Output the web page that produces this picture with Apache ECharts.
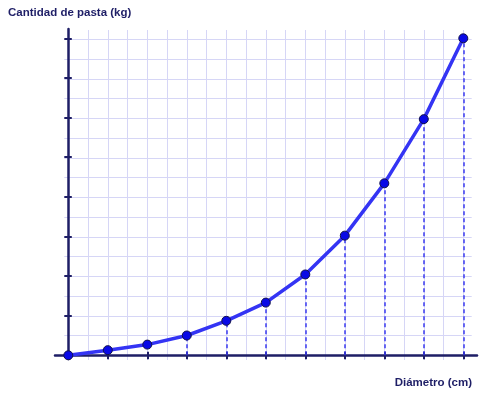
<!DOCTYPE html>
<html>
<head>
<meta charset="utf-8">
<script src="https://cdn.jsdelivr.net/npm/echarts@6/dist/echarts.min.js"></script>
<style>
  html, body { margin: 0; padding: 0; background: #fff; }
  #chart { width: 500px; height: 398px; }
</style>
</head>
<body>
<div id="chart"></div>
<script>
// diámetro (cm) en el eje x, cantidad de pasta (kg) en el eje y
const diametro = [0, 1, 2, 3, 4, 5, 6, 7, 8, 9, 10]
const pasta = [0, 0.13, 0.27, 0.5, 0.87, 1.33, 2.04, 3.02, 4.34, 5.96, 8.0]
const yTitle = 'Cantidad de pasta (kg)'
const xTitle = 'Diámetro (cm)'
const firstDropLine = 3

const navy = '#1e1e66'
const gridColor = '#d6d6f6'
const font = '"Liberation Sans", Arial, sans-serif'

const chart = echarts.init(document.getElementById('chart'), null, { renderer: 'canvas' })

const points = diametro.map((d, i) => [d, pasta[i]])
const dropLines = points.slice(firstDropLine).map(([d, p]) => [{ coord: [d, 0] }, { coord: [d, p] }])

const hidden = { axisLine: { show: false }, axisTick: { show: false }, axisLabel: { show: false }, splitLine: { show: false } }
const tickAxis = (inside, extra) => ({
  type: 'value', min: 0, interval: 1, gridIndex: 2, ...extra,
  axisLine: { show: false }, axisLabel: { show: false }, splitLine: { show: false },
  axisTick: { show: true, inside, length: inside ? 3.5 : 4, lineStyle: { color: navy, width: 2 } },
})
const titleStyle = { fontFamily: font, fontSize: 11.5, fontWeight: 'bold', color: navy }

chart.setOption({
  animation: false,
  backgroundColor: '#fff',
  title: [
    { text: yTitle, left: 8, top: 7, padding: 0, textStyle: titleStyle },
    { text: xTitle, right: 28, top: 377, padding: 0, textStyle: titleStyle },
  ],
  grid: [
    // fondo cuadriculado (cada 0,5)
    { left: 64.3, right: 28.3, top: 30, bottom: 38, outerBoundsMode: 'none' },
    // líneas de los ejes
    { left: 55, right: 23, top: 29, bottom: 39, outerBoundsMode: 'none' },
    // datos y marcas
    { left: 68.3, right: 36.7, top: 38.3, bottom: 42.7, outerBoundsMode: 'none' },
  ],
  xAxis: [
    { type: 'value', gridIndex: 0, min: -0.1, max: 10.21, splitNumber: 20, minInterval: 0.5, maxInterval: 0.5,
      axisLine: { show: false }, axisTick: { show: false }, axisLabel: { show: false },
      splitLine: { show: true, showMinLine: false, showMaxLine: false, lineStyle: { color: gridColor, width: 1 } } },
    { type: 'value', gridIndex: 1, min: -0.337, max: 10.347, ...hidden,
      axisLine: { show: true, onZero: true, lineStyle: { color: navy, width: 2.5 } } },
    tickAxis(false, { max: 10, position: 'bottom' }),
    tickAxis(true, { max: 10, position: 'bottom' }),
  ],
  yAxis: [
    { type: 'value', gridIndex: 0, min: -0.12, max: 8.235, splitNumber: 17, minInterval: 0.5, maxInterval: 0.5,
      axisLine: { show: false }, axisTick: { show: false }, axisLabel: { show: false },
      splitLine: { show: true, showMinLine: false, showMaxLine: false, lineStyle: { color: gridColor, width: 1 } } },
    { type: 'value', gridIndex: 1, min: -0.094, max: 8.261, ...hidden,
      axisLine: { show: true, onZero: true, lineStyle: { color: navy, width: 2.5 } } },
    tickAxis(false, { max: 8, position: 'left' }),
    tickAxis(true, { max: 8, position: 'left' }),
  ],
  series: [
    {
      name: 'pasta', type: 'line', xAxisIndex: 2, yAxisIndex: 2, data: points, smooth: false,
      symbol: 'circle', symbolSize: 9, z: 5,
      lineStyle: { color: '#3434f4', width: 3.5 },
      itemStyle: { color: '#0909e6', borderColor: '#12124a', borderWidth: 1 },
      markLine: {
        silent: true, symbol: 'none', label: { show: false }, animation: false,
        lineStyle: { color: '#3a3af0', width: 1.5, type: [4, 3] },
        data: dropLines,
      },
    },
  ],
})
</script>
</body>
</html>
